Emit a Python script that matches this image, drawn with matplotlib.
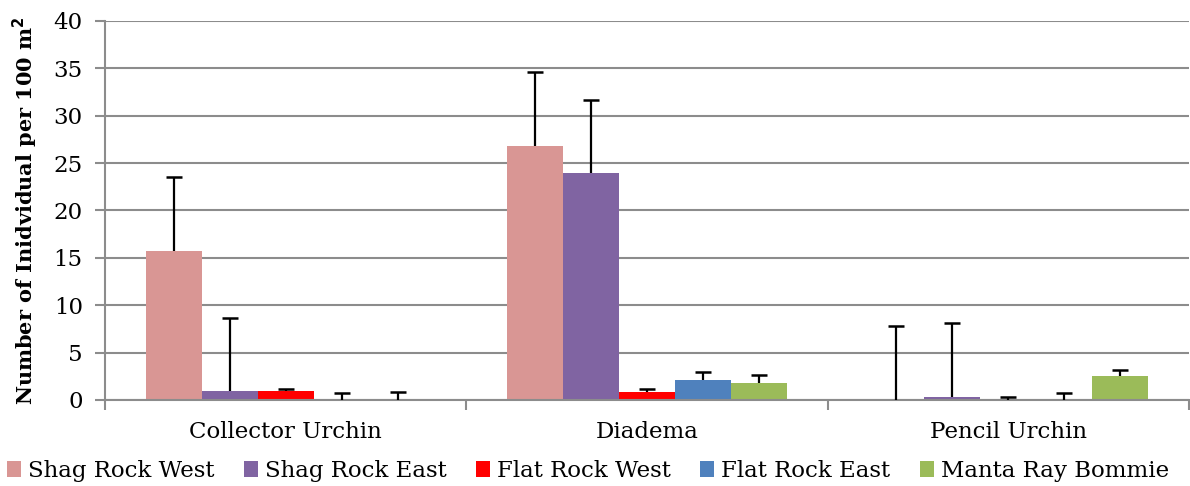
import numpy as np
import matplotlib.pyplot as plt

categories = ["Collector Urchin", "Diadema", "Pencil Urchin"]
sites = ["Shag Rock West", "Shag Rock East", "Flat Rock West", "Flat Rock East", "Manta Ray Bommie"]
colors = ["#D99694", "#8064A2", "#FF0000", "#4F81BD", "#9BBB59"]

# mean density per site, one list per site (values per category)
shag_west = [15.7, 26.8, 0.0]
shag_east = [0.9, 23.9, 0.3]
flat_west = [0.9, 0.8, 0.0]
flat_east = [0.0, 2.1, 0.0]
manta = [0.0, 1.8, 2.5]

# upper error bar lengths
shag_west_err = [7.8, 7.8, 7.8]
shag_east_err = [7.8, 7.8, 7.8]
flat_west_err = [0.3, 0.4, 0.3]
flat_east_err = [0.7, 0.8, 0.7]
manta_err = [0.8, 0.8, 0.7]

values = [shag_west, shag_east, flat_west, flat_east, manta]
errors = [shag_west_err, shag_east_err, flat_west_err, flat_east_err, manta_err]

plt.rcParams["font.family"] = ["DejaVu Serif"]

fig = plt.figure(figsize=(11.9, 4.86), dpi=100)
ax = fig.add_axes([0.0882, 0.177, 0.911, 0.78])

x = np.arange(len(categories))
w = 0.155
for k in range(len(sites)):
    pos = x + (k - 2) * w
    val = np.array(values[k])
    top = val + np.array(errors[k])
    ax.bar(pos, val, width=w, color=colors[k], label=sites[k], zorder=2)
    # plus-only error bars: stem and top cap
    ax.vlines(pos, val, top, color="black", linewidth=1.6, zorder=3)
    ax.plot(pos, top, linestyle="none", marker="_", markersize=11, markeredgewidth=1.8,
            color="black", zorder=3)

ax.set_ylim(0, 40)
ax.set_xlim(-0.5, 2.5)
ax.set_yticks(range(0, 41, 5))
ax.yaxis.grid(True, color="#8C8C8C", linewidth=1.5, zorder=0)
ax.set_axisbelow(True)

ax.set_xticks([-0.5, 0.5, 1.5, 2.5])
ax.set_xticklabels([])
ax.set_xticks(x, minor=True)
ax.set_xticklabels(categories, minor=True, fontsize=16.5)
ax.tick_params(axis="x", which="minor", length=0, pad=15)
ax.tick_params(axis="x", which="major", length=7, width=1.5, color="#8C8C8C")
ax.tick_params(axis="y", length=7, width=1.5, color="#8C8C8C", labelsize=16.5, pad=9)

for s in ["top", "right"]:
    ax.spines[s].set_visible(False)
for s in ["left", "bottom"]:
    ax.spines[s].set_color("#8C8C8C")
    ax.spines[s].set_linewidth(1.5)

ax.set_ylabel("Number of Inidvidual per 100 m$^\\mathbf{2}$", fontsize=15, fontweight="bold", labelpad=10)

fig.legend(loc="center", bbox_to_anchor=(0.494, 0.031), ncol=5, frameon=False, fontsize=16.5,
           handlelength=0.6, handleheight=0.7, handletextpad=0.3, columnspacing=1.3)

fig.savefig("out.png", dpi=100)
